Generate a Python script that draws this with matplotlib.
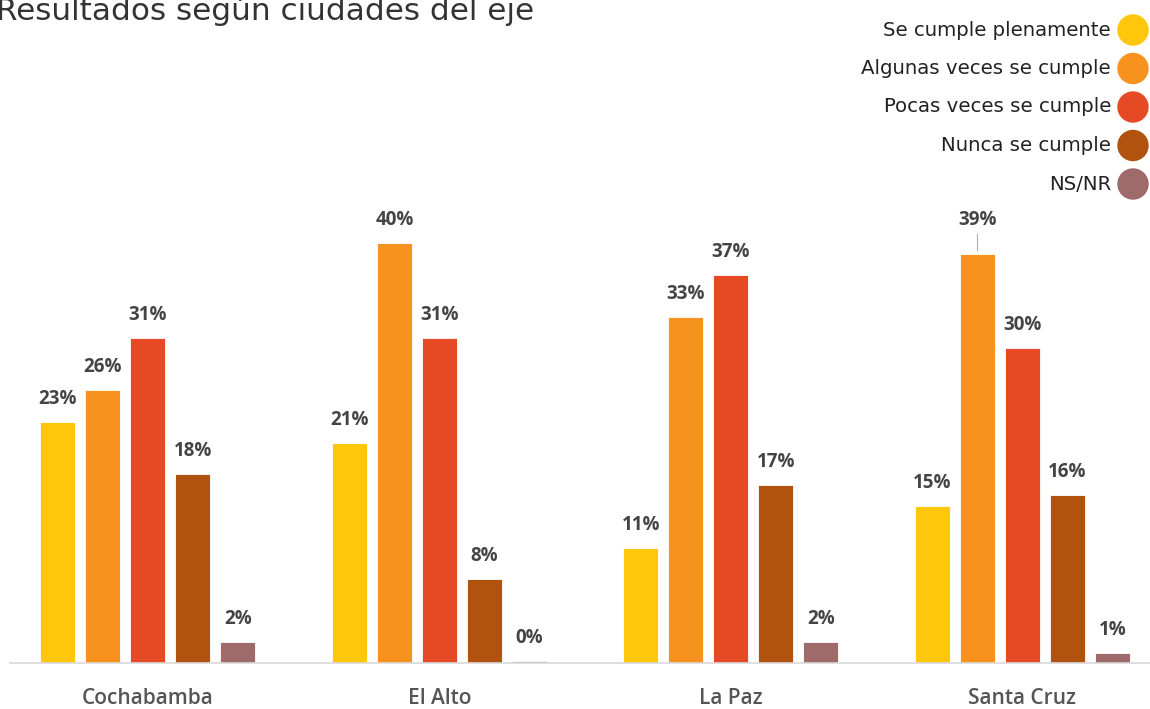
import matplotlib
matplotlib.use("Agg")
import matplotlib.pyplot as plt
from matplotlib.patches import Ellipse
import numpy as np

cities = ["Cochabamba", "El Alto", "La Paz", "Santa Cruz"]
series_names = ["Se cumple plenamente", "Algunas veces se cumple",
                "Pocas veces se cumple", "Nunca se cumple", "NS/NR"]
plenamente = [23, 21, 11, 15]
algunas = [26, 40, 33, 39]
pocas = [31, 31, 37, 30]
nunca = [18, 8, 17, 16]
nsnr = [2, 0.2, 2, 1]
labels = [["23%", "21%", "11%", "15%"],
          ["26%", "40%", "33%", "39%"],
          ["31%", "31%", "37%", "30%"],
          ["18%", "8%", "17%", "16%"],
          ["2%", "0%", "2%", "1%"]]
colors = ["#FFC70B", "#F7921E", "#E54A24", "#B1520F", "#9E6A6A"]
title = "Resultados según ciudades del eje"

W, H = 1150, 709
fig = plt.figure(figsize=(W / 100, H / 100), dpi=100)
ax = fig.add_axes([10 / W, (H - 663) / H, 1140 / W, 463 / H])

series = [plenamente, algunas, pocas, nunca, nsnr]
x = np.arange(len(cities))
step = 45 / 291.5
width = 35 / 291.5
for i, (vals, c) in enumerate(zip(series, colors)):
    xs = x + (i - 2) * step
    ax.bar(xs, vals, width=width, color=c, edgecolor="white", linewidth=0.6, zorder=2)
    for j, (xx, v) in enumerate(zip(xs, vals)):
        lab = labels[i][j]
        if cities[j] == "Santa Cruz" and i == 1:
            ax.annotate(lab, xy=(xx, v + 0.25), xytext=(0, 15), textcoords="offset points",
                        ha="center", va="bottom", fontsize=13.5, fontweight="bold",
                        color="#444444", family="Open Sans",
                        arrowprops=dict(arrowstyle="-", color="#b0b0b0", lw=0.8,
                                        shrinkA=1, shrinkB=0))
        else:
            ax.text(xx, v + 1.2, lab, ha="center", va="bottom", fontsize=13.5,
                    fontweight="bold", color="#444444", family="Open Sans")

ax.set_xlim(-0.4734, 3.4374)
ax.set_ylim(0, 44.1)
for s in ["top", "right", "left"]:
    ax.spines[s].set_visible(False)
ax.spines["bottom"].set_color("#d9d9d9")
ax.spines["bottom"].set_linewidth(1.2)
ax.set_yticks([])
ax.set_xticks(x)
ax.set_xticklabels(cities, fontsize=15, fontweight="semibold", color="#555555",
                   family="Open Sans")
ax.tick_params(axis="x", length=0, pad=18)

fig.text(-4 / W, 1 - 20 / H, title, ha="left", va="baseline", fontsize=22.4,
         color="#333333", family="DejaVu Sans")

for k, (name, c) in enumerate(zip(series_names, colors)):
    yy = 1 - (30 + 38.5 * k) / H
    fig.text(1111 / W, yy, name, ha="right", va="center", fontsize=14.2,
             color="#222222", family="DejaVu Sans")
    fig.add_artist(Ellipse((1133 / W, yy), 30 / W, 30 / H, color=c,
                           transform=fig.transFigure))

fig.savefig("out.png", dpi=100)
